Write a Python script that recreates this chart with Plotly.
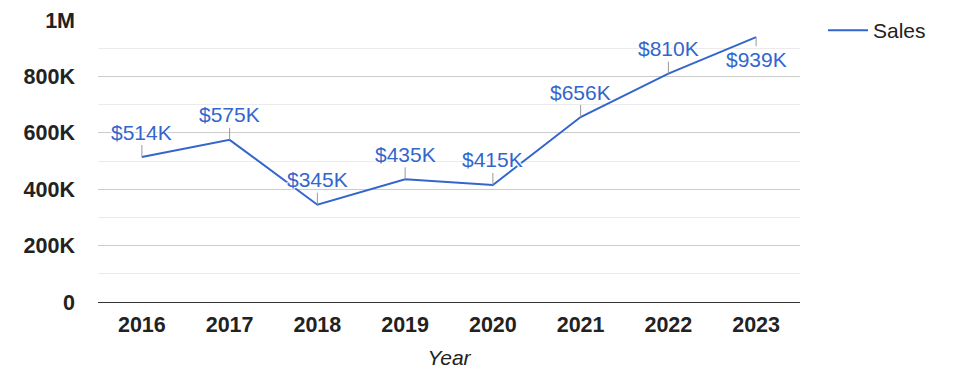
import plotly.graph_objects as go

years = ["2016", "2017", "2018", "2019", "2020", "2021", "2022", "2023"]
sales = [514000, 575000, 345000, 435000, 415000, 656000, 810000, 939000]
labels = ["$514K", "$575K", "$345K", "$435K", "$415K", "$656K", "$810K", "$939K"]
label_below = [False, False, False, False, False, False, False, True]
ytick_vals = [0, 200000, 400000, 600000, 800000, 1000000]
ytick_text = ["0", "200K", "400K", "600K", "800K", "1M"]

BLUE = "#3366cc"
FONT = "Arial, Liberation Sans, sans-serif"

fig = go.Figure()
fig.add_trace(go.Scatter(
    x=years, y=sales, mode="lines", name="Sales",
    line=dict(color=BLUE, width=2),
    hoverinfo="skip",
))

halo = "1px 1px 1px #fff, -1px -1px 1px #fff, 1px -1px 1px #fff, -1px 1px 1px #fff"
for i, (v, t, below) in enumerate(zip(sales, labels, label_below)):
    fig.add_annotation(
        x=i, y=v, text=t, showarrow=True, arrowhead=0, arrowwidth=1,
        arrowcolor="#999999", ax=0, ay=(22 if below else -25), standoff=0,
        font=dict(family=FONT, size=21, color=BLUE, shadow=halo),
    )

fig.update_layout(
    width=967, height=370,
    margin=dict(l=90, r=175, t=12, b=76),
    paper_bgcolor="white", plot_bgcolor="white",
    font=dict(family=FONT, color="#222222"),
    showlegend=True,
    legend=dict(xref="container", yref="container",
                x=0.8428, y=0.9946, xanchor="left", yanchor="top",
                itemwidth=40,
                font=dict(family=FONT, size=21, color="#222222"),
                bgcolor="rgba(0,0,0,0)"),
    xaxis=dict(
        type="category", range=[-0.5, len(years) - 0.5], automargin=False,
        showgrid=False, showline=True, linecolor="#333333",
        linewidth=1, ticks="", ticklabelstandoff=3,
        tickfont=dict(family=FONT, size=21.5, color="#222222", weight="bold"),
        title=dict(text="Year", standoff=14,
                   font=dict(family=FONT, size=21, color="#222222", style="italic")),
    ),
    yaxis=dict(
        range=[0, 1000000], tickvals=ytick_vals, ticktext=ytick_text,
        automargin=False,
        showgrid=True, gridcolor="#cccccc", gridwidth=1, zeroline=False,
        minor=dict(dtick=100000, showgrid=True, gridcolor="#ebebeb", gridwidth=1),
        ticks="", ticklabelstandoff=22,
        tickfont=dict(family=FONT, size=21.5, color="#222222", weight="bold"),
    ),
)

fig.write_html("out.html")
